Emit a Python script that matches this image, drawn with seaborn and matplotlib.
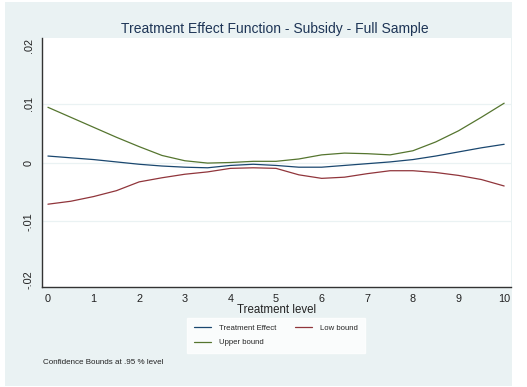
import matplotlib
matplotlib.use("Agg")
import matplotlib.pyplot as plt
import seaborn as sns
import pandas as pd
from matplotlib.patches import Rectangle
from matplotlib.lines import Line2D

sns.set_style("white")
plt.rcParams['font.family'] = ['Liberation Sans', 'DejaVu Sans']

treatment_level = [0, 0.5, 1, 1.5, 2, 2.5, 3, 3.5, 4, 4.5, 5, 5.5, 6, 6.5, 7, 7.5, 8, 8.5, 9, 9.5, 10]
treatment_effect = [0.0011, 0.0008, 0.0005, 0.0001, -0.0003, -0.0006, -0.0008, -0.0009, -0.0005, -0.0003,
                    -0.0005, -0.0008, -0.0008, -0.0005, -0.0002, 0.0001, 0.0005, 0.0011, 0.0018, 0.0025, 0.0031]
low_bound = [-0.0071, -0.0066, -0.0058, -0.0048, -0.0033, -0.0026, -0.0020, -0.0016, -0.0010, -0.0009,
             -0.0010, -0.0021, -0.0027, -0.0025, -0.0019, -0.0014, -0.0014, -0.0017, -0.0022, -0.0029, -0.0040]
upper_bound = [0.0094, 0.0077, 0.0060, 0.0043, 0.0027, 0.0012, 0.0003, -0.0001, 0.0000, 0.0002,
               0.0002, 0.0006, 0.0013, 0.0016, 0.0015, 0.0013, 0.0020, 0.0035, 0.0054, 0.0077, 0.0101]
series_names = ["Treatment Effect", "Low bound", "Upper bound"]
x_ticks = [0, 1, 2, 3, 4, 5, 6, 7, 8, 9, 10]
y_ticks = [-0.02, -0.01, 0, 0.01, 0.02]
y_tick_labels = ["-.02", "-.01", "0", ".01", ".02"]
grid_levels = [-0.01, 0, 0.01]

df = pd.DataFrame({
    "x": treatment_level * 3,
    "y": treatment_effect + low_bound + upper_bound,
    "series": [series_names[0]] * len(treatment_level) + [series_names[1]] * len(treatment_level)
              + [series_names[2]] * len(treatment_level),
})
palette = {"Treatment Effect": "#1a476f", "Low bound": "#90353b", "Upper bound": "#55752f"}

fig = plt.figure(figsize=(5.27, 3.87), dpi=100)
fig.patch.set_facecolor("white")
bg = Rectangle((5 / 527, 1 - 386 / 387), 507 / 527, 384 / 387, transform=fig.transFigure,
               facecolor="#eaf2f3", edgecolor="none", zorder=-10)
fig.patches.append(bg)

ax = fig.add_axes([42 / 527, 1 - 287 / 387, 469 / 527, 249 / 387])
ax.set_facecolor("white")
for g in grid_levels:
    ax.axhline(g, color="#eaf2f3", lw=0.9, zorder=0)

sns.lineplot(data=df, x="x", y="y", hue="series", palette=palette, ax=ax, lw=0.9,
             legend=False, hue_order=series_names)

ax.set_xlim(-0.13, 10.15)
ax.set_ylim(-0.0212, 0.0212)
ax.set_xticks(x_ticks)
ax.set_xticklabels([str(t) for t in x_ticks], fontsize=7.8, color="#222222")
ax.set_yticks(y_ticks)
ax.set_yticklabels(y_tick_labels, fontsize=7.8, rotation=90, va="center", color="#222222")
ax.tick_params(axis="both", direction="out", length=4, width=0.8, color="#333333", pad=1)
ax.tick_params(axis="y", pad=2)
for s in ["top", "right"]:
    ax.spines[s].set_visible(False)
for s in ["left", "bottom"]:
    ax.spines[s].set_color("#333333")
    ax.spines[s].set_linewidth(1.0)
ax.set_xlabel("Treatment level", fontsize=8.3, labelpad=0, color="#222222")
ax.set_ylabel("")

fig.text(275 / 527, 1 - 29 / 387, "Treatment Effect Function - Subsidy - Full Sample",
         ha="center", va="center", fontsize=10, color="#1e3556")

handles = [Line2D([], [], color=palette[n], lw=0.9) for n in series_names]
order = [0, 2, 1]
leg = fig.legend([handles[i] for i in order], [series_names[i] for i in order],
                 ncol=2, loc="center", bbox_to_anchor=(276 / 527, 1 - 335.5 / 387),
                 prop={"size": 5.6}, frameon=True, fancybox=False, handlelength=2.2,
                 columnspacing=2.4, handletextpad=1.0, borderpad=0.9, labelspacing=0.9,
                 borderaxespad=0)
leg.get_frame().set_facecolor("white")
leg.get_frame().set_edgecolor("white")

fig.text(43 / 527, 1 - 362 / 387, "Confidence Bounds at .95 % level", ha="left", va="center",
         fontsize=5.8, color="#222222")

fig.savefig("out.png", dpi=100)
